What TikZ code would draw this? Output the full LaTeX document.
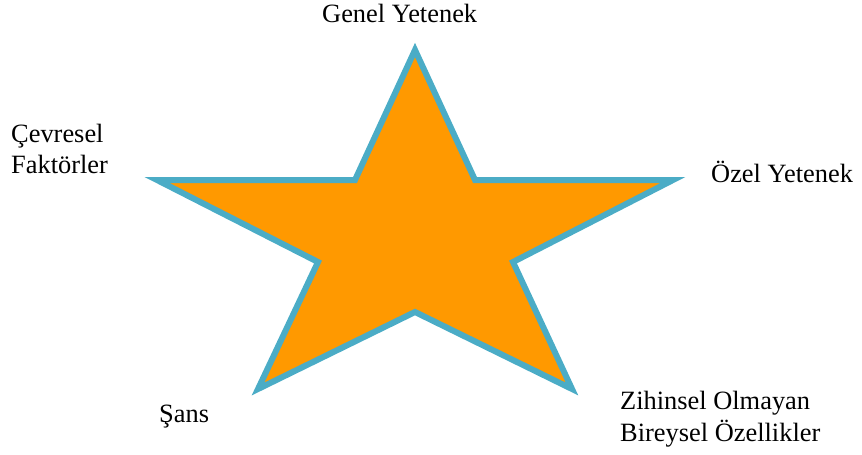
\documentclass[tikz,border=0pt]{standalone}
\usepackage{fontspec}
\setmainfont{Liberation Serif}
\usepackage{xcolor}
\usetikzlibrary{positioning}
\definecolor{starfill}{HTML}{FF9900}
\definecolor{starline}{HTML}{4BACC6}

\begin{document}
\begin{tikzpicture}[x=1pt, y=-1pt,
    txt/.style={anchor=base west, inner sep=0pt, align=left,
      font=\fontsize{26.4}{31.5}\selectfont},
    starbody/.style={draw=starline, fill=starfill, line width=6pt, line join=miter}]
  \useasboundingbox (0,0) rectangle (862,455);

  % Star corners
  \coordinate (top) at (415,50);
  \coordinate (inR) at (475,180);
  \coordinate (tipR) at (673,180);
  \coordinate (inLR) at (513,262);
  \coordinate (tipLR) at (572,389);
  \coordinate (inB) at (415,312);
  \coordinate (tipLL) at (258,389);
  \coordinate (inLL) at (318,262);
  \coordinate (tipL) at (157,180);
  \coordinate (inL) at (355,180);

  \draw[starbody] (top) -- (inR) -- (tipR) -- (inLR) -- (tipLR) -- (inB)
    -- (tipLL) -- (inLL) -- (tipL) -- (inL) -- cycle;

  % Labels (base = last line)
  \node[txt] (genel) at (322,23) {Genel Yetenek};
  \node[txt] (cevre) at (11,173.5) {Çevresel\\Faktörler};
  \node[txt] (ozel) at (711,182) {Özel Yetenek};
  \node[txt] (sans) at (159,422) {Şans};
  \node[txt] (zihin) at (620,441) {Zihinsel Olmayan\\Bireysel Özellikler};
\end{tikzpicture}
\end{document}
